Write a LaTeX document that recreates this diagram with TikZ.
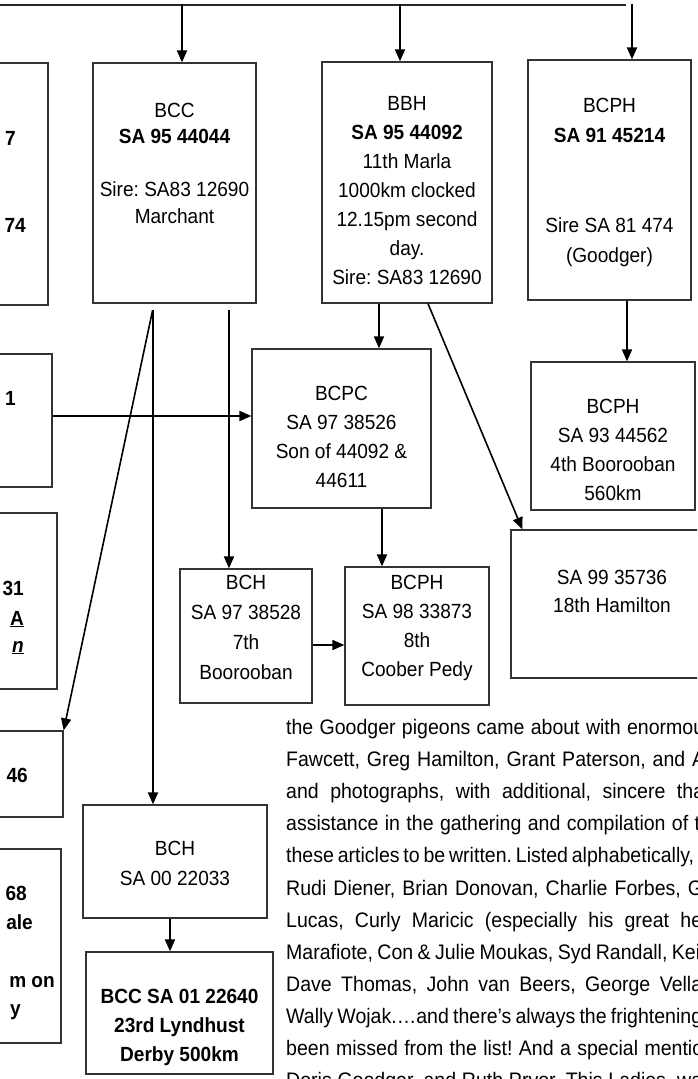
\documentclass[tikz,border=0pt]{standalone}
\usepackage{fontspec}
\setmainfont{Liberation Sans}[FakeStretch=0.93]
\usepackage{tikz}
\usetikzlibrary{arrows.meta}
\frenchspacing

\begin{document}
\begin{tikzpicture}[x=1pt,y=-1pt,
		>={Triangle[length=12pt,width=10pt]},
		pbox/.style={draw=black!80,line width=1.3pt,inner sep=0pt},
		ptext/.style={align=center,inner sep=0pt,anchor=base,font=\fontsize{20.5}{29}\selectfont},
		frag/.style={inner sep=0pt,anchor=base east,font=\fontsize{20.5}{29}\selectfont\bfseries},
		arr/.style={line width=1.9pt,->},
		topline/.style={line width=1.4pt,draw=black!85}]
				\useasboundingbox (0,0) rectangle (697,1079);
				\fill[white] (0,0) rectangle (697,1079);
				\clip (0,0) rectangle (697,1079);

				%Nodes
				\node[pbox,minimum width=108pt,minimum height=242pt] (lf1)   at (-6,184) {};
				\node[pbox,minimum width=163pt,minimum height=240pt] (bcc)   at (174.5,183) {};
				\node[pbox,minimum width=170pt,minimum height=241pt] (bbh)   at (407,182.5) {};
				\node[pbox,minimum width=163pt,minimum height=240pt] (bcph)  at (609.5,180) {};
				\node[pbox,minimum width=112pt,minimum height=133pt] (lf2)   at (-4,420.5) {};
				\node[pbox,minimum width=179pt,minimum height=159pt] (bcpc)  at (341.5,428.5) {};
				\node[pbox,minimum width=164pt,minimum height=148pt] (bcphb) at (613,436) {};
				\node[pbox,minimum width=117pt,minimum height=176pt] (lf3)   at (-1.5,601) {};
				\node[pbox,minimum width=132pt,minimum height=134pt] (bch)   at (246,636) {};
				\node[pbox,minimum width=144pt,minimum height=138pt] (bcphc) at (417,636) {};
				\node[pbox,minimum width=202pt,minimum height=148pt] (sa99)  at (612,604) {};
				\node[pbox,minimum width=123pt,minimum height=86pt]  (lf4)   at (1.5,774) {};
				\node[pbox,minimum width=184pt,minimum height=113pt] (bchb)  at (175,861.5) {};
				\node[pbox,minimum width=121pt,minimum height=194pt] (lf5)   at (0.5,946) {};
				\node[pbox,minimum width=187pt,minimum height=122pt] (bccb)  at (179.5,1013) {};

				%Texts (placed by the baseline of their last line)
				\node[ptext,font=\fontsize{20.5}{26.5}\selectfont] (bccT) at (174.5,223)
					{BCC\\\textbf{SA 95 44044}\\[26.5pt]Sire: SA83 12690\\Marchant};
				\node[ptext] (bbhT) at (407,284)
					{BBH\\\textbf{SA 95 44092}\\11th Marla\\1000km clocked\\12.15pm second\\day.\\Sire: SA83 12690};
				\node[ptext,font=\fontsize{20.5}{30}\selectfont] (bcphT) at (609.5,262)
					{BCPH\\\textbf{SA 91 45214}\\[60pt]Sire SA 81 474\\(Goodger)};
				\node[ptext] (bcpcT) at (341.5,487) {BCPC\\SA 97 38526\\Son of 44092 \&\\44611};
				\node[ptext] (bcphbT) at (613,500) {BCPH\\SA 93 44562\\4th Boorooban\\560km};
				\node[ptext,font=\fontsize{20.5}{29.7}\selectfont] (bchT) at (246,679) {BCH\\SA 97 38528\\7th\\Boorooban};
				\node[ptext] (bcphcT) at (417,676) {BCPH\\SA 98 33873\\8th\\Coober Pedy};
				\node[ptext,font=\fontsize{20.5}{28}\selectfont] (sa99T) at (612,612) {SA 99 35736\\18th Hamilton};
				\node[ptext,font=\fontsize{20.5}{30}\selectfont] (bchbT) at (175,885) {BCH\\SA 00 22033};
				\node[ptext,font=\fontsize{20.5}{29}\selectfont\bfseries] (bccbT) at (179.5,1061)
					{BCC SA 01 22640\\23rd Lyndhust\\Derby 500km};

				\node[frag] (f1) at (16,145) {7};
				\node[frag] (f2) at (26,232) {74};
				\node[frag] (f3) at (16,405) {1};
				\node[frag] (f4) at (24,595) {31};
				\node[frag] (f5) at (24,625) {\underline{A}};
				\node[frag] (f6) at (24,652) {\underline{\textit{n}}};
				\node[frag] (f7) at (28,782) {46};
				\node[frag] (f8) at (27,900) {68};
				\node[frag] (f9) at (33,929) {ale};
				\node[frag] (f10) at (55,987) {m on};
				\node[frag] (f11) at (21,1015) {y};

				\node[inner sep=0pt,anchor=base west,align=left,font=\fontsize{21}{32.1}\selectfont] (para) at (286,1087.6)
					{\makebox[418pt][s]{the Goodger pigeons came about with enormou}\\
					 \makebox[419pt][s]{Fawcett, Greg Hamilton, Grant Paterson, and A}\\
					 \makebox[418pt][s]{and photographs, with additional, sincere tha}\\
					 \makebox[414pt][s]{assistance in the gathering and compilation of t}\\
					 \makebox[408pt][s]{these articles to be written. Listed alphabetically,}\\
					 \makebox[417pt][s]{Rudi Diener, Brian Donovan, Charlie Forbes, G}\\
					 \makebox[416pt][s]{Lucas, Curly Maricic (especially his great he}\\
					 \makebox[414pt][s]{Marafiote, Con \& Julie Moukas, Syd Randall, Kei}\\
					 \makebox[416pt][s]{Dave Thomas, John van Beers, George Vella}\\
					 \makebox[416pt][s]{Wally Wojak.…and there’s always the frightening}\\
					 \makebox[417pt][s]{been missed from the list! And a special mentio}\\
					 \makebox[416pt][s]{Doris Goodger, and Ruth Pryor. This Ladies, wa}};

				%Coordinates
				\coordinate (t0) at (0,5);
				\coordinate (t4) at (626,5);
				\coordinate (t1) at (182,4);
				\coordinate (t2) at (400,4);
				\coordinate (t3) at (632,4);

				%Lines
				\draw[topline] (t0) -- (t4);
				\draw[arr] (t1) -- (t1 |- bcc.north);
				\draw[arr] (t2) -- (t2 |- bbh.north);
				\draw[arr] (t3) -- (t3 |- bcph.north);

				\draw[arr] ([xshift=17.5pt]bcph.south) -- ([xshift=17.5pt]bcph.south |- bcphb.north);
				\draw[arr] ([xshift=-28pt]bbh.south) -- ([xshift=-28pt]bbh.south |- bcpc.north);
				\draw[arr,line width=1.6pt] ([xshift=21pt]bbh.south) -- ([xshift=12pt]sa99.north west);
				\draw[arr] ([yshift=4.5pt]lf2.east) -- ([yshift=4.5pt]lf2.east -| bcpc.west);
				\draw[arr,shorten <=6pt] ([xshift=54.5pt]bcc.south) -- ([xshift=54.5pt]bcc.south |- bch.north);
				\draw[arr] ([xshift=40.5pt]bcpc.south) -- ([xshift=40.5pt]bcpc.south |- bcphc.north);
				\draw[arr] ([yshift=-9pt]bch.east) -- ([yshift=-9pt]bch.east -| bcphc.west);
				\draw[arr,shorten <=6pt] ([xshift=-21.5pt]bcc.south) -- ([xshift=-21.5pt]bcc.south |- bchb.north);
				\draw[arr,line width=1.6pt,shorten <=7pt] ([xshift=-20.5pt]bcc.south) -- (lf4.north east);
				\draw[arr] ([xshift=-5pt]bchb.south) -- ([xshift=-5pt]bchb.south |- bccb.north);

		\end{tikzpicture}
\end{document}
